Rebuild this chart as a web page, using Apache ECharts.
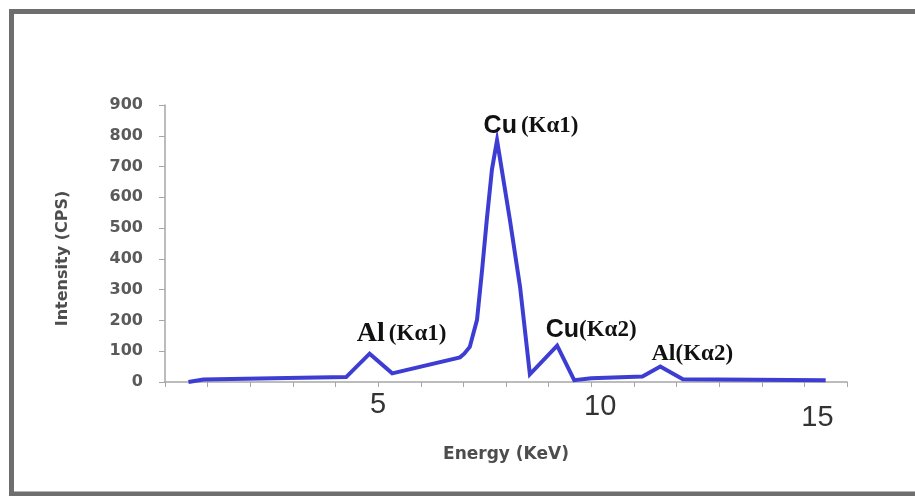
<!DOCTYPE html>
<html>
<head>
<meta charset="utf-8">
<script src="https://cdn.jsdelivr.net/npm/echarts@6/dist/echarts.min.js"></script>
<style>
  html, body { margin: 0; padding: 0; background: #fff; overflow: hidden; }
  #chart { width: 915px; height: 496px; }
</style>
</head>
<body>
<div id="chart"></div>
<script>
// EDX spectrum: energy (keV) vs intensity (counts per second)
const energy = [0.55, 0.9, 3.2, 4.25, 4.8, 5.33, 6.92, 7.02, 7.15, 7.32, 7.44, 7.55, 7.67, 7.79,
                8.09, 8.33, 8.56, 9.2, 9.6, 10.0, 11.2, 11.62, 12.15, 15.5];
const intensity = [0, 8, 14, 16, 92, 28, 80, 92, 114, 202, 365, 528, 690, 785,
                   528, 309, 25, 118, 6, 12, 18, 50, 9, 6];

// Peak identifications: element, line, index of the peak point
const peakElements = ['Al', 'Cu', 'Cu', 'Al'];
const peakLines = ['(Kα1)', '(Kα1)', '(Kα2)', '(Kα2)'];
const peakIndex = [4, 13, 17, 21];

const xTickLabels = [5, 10, 15];
const yTicks = [0, 100, 200, 300, 400, 500, 600, 700, 800, 900];

const axisGrey = '#a6a6a6';
const lineBlue = '#3d3dd4';

// per-peak label styling (element font, offset from the peak)
const peakLabelStyle = [
  { elem: 'alBig', line: 'kSmall', offset: [32, -20], gap: 4 },
  { elem: 'cu', line: 'kSmall', offset: [34, -14], gap: 4 },
  { elem: 'cu', line: 'kSmall', offset: [34, -16], gap: 0 },
  { elem: 'alSmall', line: 'kSmall', offset: [32, -13], gap: 0 }
];

const markData = peakIndex.map((idx, i) => ({
  coord: [energy[idx], intensity[idx]],
  label: {
    formatter: '{' + peakLabelStyle[i].elem + '|' + peakElements[i] + '}' +
               '{' + (peakLabelStyle[i].gap ? 'gap' : 'nogap') + '|}' +
               '{' + peakLabelStyle[i].line + '|' + peakLines[i] + '}',
    offset: peakLabelStyle[i].offset
  }
}));

// picture frame edges: left, top and bottom
const frameStyle = { stroke: '#6e6e6e', lineWidth: 5 };
const frameEdges = [
  { x1: 11.5, y1: 9, x2: 11.5, y2: 496 },
  { x1: 9, y1: 11.5, x2: 915, y2: 11.5 },
  { x1: 9, y1: 494, x2: 915, y2: 494 }
];

const chart = echarts.init(document.getElementById('chart'), null, { renderer: 'canvas' });

chart.setOption({
  backgroundColor: '#ffffff',
  animation: false,
  graphic: frameEdges.map(s => ({ type: 'line', shape: s, style: frameStyle, silent: true })),
  grid: { left: 165, right: 68, top: 105, bottom: 114, containLabel: false },
  xAxis: {
    type: 'value',
    min: 0,
    max: 16,
    interval: 1,
    name: 'Energy (KeV)',
    nameLocation: 'middle',
    nameGap: 64,
    nameTextStyle: { fontFamily: 'DejaVu Sans', fontWeight: 'bold', fontSize: 17, color: '#4d4d4d' },
    axisLine: { show: true, lineStyle: { color: axisGrey, width: 1.5 } },
    axisTick: { show: true, length: 5, lineStyle: { color: axisGrey } },
    splitLine: { show: false },
    axisLabel: {
      margin: 6,
      showMinLabel: true,
      showMaxLabel: true,
      formatter: function (v) {
        const i = xTickLabels.indexOf(v);
        if (i < 0) return '';
        return '{t' + i + '|' + v + '}';
      },
      rich: {
        t0: { fontFamily: 'Liberation Sans', fontSize: 29, color: '#333', padding: [2, 0, 0, 0] },
        t1: { fontFamily: 'Liberation Sans', fontSize: 29, color: '#333', padding: [4, 0, 0, 18] },
        t2: { fontFamily: 'Liberation Sans', fontSize: 29, color: '#333', padding: [15, 0, 0, 26] }
      }
    }
  },
  yAxis: {
    type: 'value',
    min: yTicks[0],
    max: yTicks[yTicks.length - 1],
    interval: 100,
    name: 'Intensity (CPS)',
    nameLocation: 'middle',
    nameRotate: 90,
    nameGap: 94,
    nameTextStyle: { fontFamily: 'DejaVu Sans', fontWeight: 'bold', fontSize: 16, color: '#4d4d4d', padding: [0, 30, 0, 0] },
    axisLine: { show: true, lineStyle: { color: axisGrey, width: 1.5 } },
    axisTick: { show: true, length: 6, lineStyle: { color: axisGrey } },
    splitLine: { show: false },
    axisLabel: {
      margin: 22,
      fontFamily: 'DejaVu Sans',
      fontWeight: 'bold',
      fontSize: 16,
      color: '#5a5a5a'
    }
  },
  series: [{
    type: 'line',
    data: energy.map((e, i) => [e, intensity[i]]),
    symbol: 'none',
    smooth: false,
    lineStyle: { color: lineBlue, width: 4, join: 'miter' },
    markPoint: {
      symbol: 'circle',
      symbolSize: 0,
      silent: true,
      label: {
        show: true,
        position: 'inside',
        color: '#111',
        rich: {
          alBig: { fontFamily: 'Liberation Serif', fontWeight: 'bold', fontSize: 28, color: '#111' },
          alSmall: { fontFamily: 'Liberation Serif', fontWeight: 'bold', fontSize: 24, color: '#111' },
          cu: { fontFamily: 'Liberation Sans', fontWeight: 'bold', fontSize: 25, color: '#111' },
          kSmall: { fontFamily: 'Liberation Serif', fontWeight: 'bold', fontSize: 23, color: '#111' },
          gap: { width: 4 },
          nogap: { width: 0 }
        }
      },
      data: markData
    }
  }]
});
</script>
</body>
</html>
